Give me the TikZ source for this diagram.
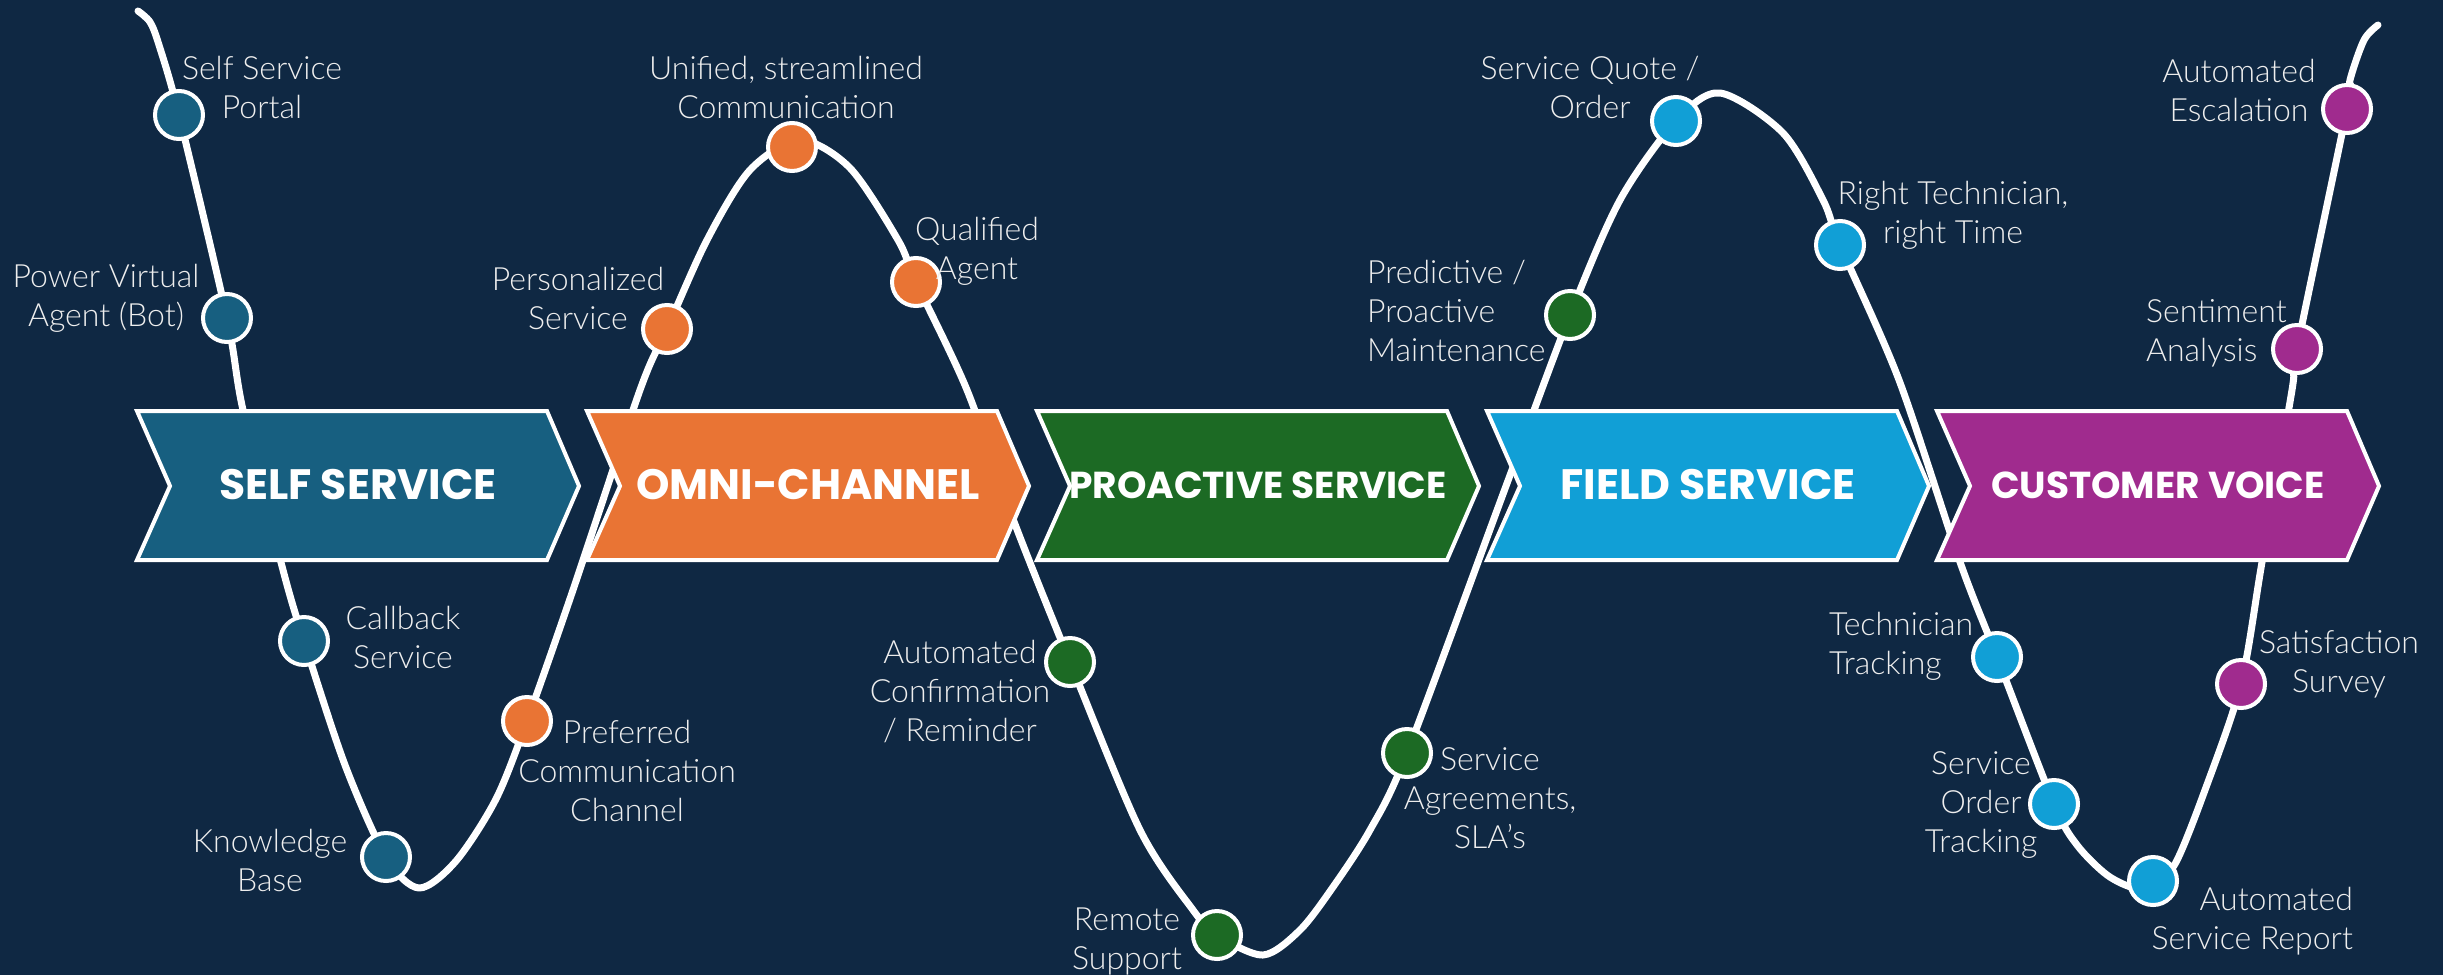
\documentclass[tikz,border=0pt]{standalone}
\usepackage{fontspec}
\IfFontExistsTF{Lato Light}{\setmainfont{Lato Light}}{\setmainfont{Lato}}
\newfontfamily\popfont{Poppins}
\definecolor{bgnavy}{HTML}{0F2843}
\definecolor{cself}{HTML}{175F80}
\definecolor{comni}{HTML}{E97434}
\definecolor{cpro}{HTML}{1C6A24}
\definecolor{cfield}{HTML}{119FD6}
\definecolor{ccust}{HTML}{A02B8E}
\definecolor{lblcol}{HTML}{EEEEEE}
\begin{document}
\begin{tikzpicture}[x=1pt,y=-1pt,
  lbl/.style={text=lblcol,align=center,inner sep=0pt,font={\fontsize{32}{39}\selectfont}},
  lblL/.style={lbl,align=left},
  lblR/.style={lbl,align=right},
  dot/.style={circle,draw=white,line width=4pt,minimum size=48pt,inner sep=0pt},
  chevbox/.style={draw=white,line width=4pt,line join=miter},
  chevtext/.style={text=white,inner sep=0pt,font={\popfont\bfseries\fontsize{42.5}{42.5}\selectfont}},
  chevtextS/.style={chevtext,font={\popfont\bfseries\fontsize{37.5}{37.5}\selectfont}},
  wave/.style={draw=white,line width=7pt,line cap=round,line join=round}]
\fill[bgnavy] (0,0) rectangle (2443,975);
\useasboundingbox (0,0) rectangle (2443,975);
% dot positions
\coordinate (p1) at (179,115);
\coordinate (p2) at (227,318);
\coordinate (p3) at (304,641);
\coordinate (p4) at (386,857);
\coordinate (p5) at (527,721);
\coordinate (p6) at (667,329);
\coordinate (p7) at (792,147);
\coordinate (p8) at (916,282);
\coordinate (p9) at (1070,662);
\coordinate (p10) at (1217,935);
\coordinate (p11) at (1407,753);
\coordinate (p12) at (1570,315);
\coordinate (p13) at (1676,121);
\coordinate (p14) at (1840,245);
\coordinate (p15) at (1997,657);
\coordinate (p16) at (2054,804);
\coordinate (p17) at (2153,881);
\coordinate (p18) at (2241,684);
\coordinate (p19) at (2297,349);
\coordinate (p20) at (2347,109);
\coordinate (wstart) at (138,11);
\coordinate (wend) at (2378,25);
% wave
\draw[wave] plot[smooth,tension=0.5] coordinates {
 (wstart) (150,22) (159,45) (p1) (p2) (243,410) (283,570) (p3) (345,765) (p4) (419,888) (456,861) (496,799) (p5) (573,590) (640,390) (p6) (707,240) (750,170) (800,140) (850,168) (898,240) (p8) (967,390) (1013,519) (p9) (1140,830) (1193,910) (p10) (1263,955) (1300,930) (1333,887) (1370,830) (p11) (1506,486) (p12) (1620,200) (p13) (1720,93) (1783,133) (1823,200) (p14) (1899,380) (1960,562) (p15) (p16) (2077,845) (2107,875) (2135,888) (p17) (2175,864) (2205,790) (p18) (2262,562) (2292,390) (p19) (p20) (2350,80) (2364,40) (wend)};
% chevrons
\foreach \x/\c/\t/\n/\s in {137/cself/SELF SERVICE/cs/chevtext,587/comni/OMNI-CHANNEL/co/chevtext,1037/cpro/PROACTIVE SERVICE/cp/chevtextS,1487/cfield/FIELD SERVICE/cf/chevtext,1937/ccust/CUSTOMER VOICE/cc/chevtextS}{
  \filldraw[chevbox,fill=\c] (\x,411) -- ++(410,0) -- ++(32,75) -- ++(-32,74) -- ++(-410,0) -- ++(33,-74) -- cycle;
  \node[\s] (\n) at (\x+221,485) {\t};
}
% dots
\node[dot,fill=cself] (d1) at (p1) {};
\node[dot,fill=cself] (d2) at (p2) {};
\node[dot,fill=cself] (d3) at (p3) {};
\node[dot,fill=cself] (d4) at (p4) {};
\node[dot,fill=comni] (d5) at (p5) {};
\node[dot,fill=comni] (d6) at (p6) {};
\node[dot,fill=comni] (d7) at (p7) {};
\node[dot,fill=comni] (d8) at (p8) {};
\node[dot,fill=cpro] (d9) at (p9) {};
\node[dot,fill=cpro] (d10) at (p10) {};
\node[dot,fill=cpro] (d11) at (p11) {};
\node[dot,fill=cpro] (d12) at (p12) {};
\node[dot,fill=cfield] (d13) at (p13) {};
\node[dot,fill=cfield] (d14) at (p14) {};
\node[dot,fill=cfield] (d15) at (p15) {};
\node[dot,fill=cfield] (d16) at (p16) {};
\node[dot,fill=cfield] (d17) at (p17) {};
\node[dot,fill=ccust] (d18) at (p18) {};
\node[dot,fill=ccust] (d19) at (p19) {};
\node[dot,fill=ccust] (d20) at (p20) {};
% labels
\node[lbl] (l1) at (262,87) {Self Service\\Portal};
\node[lbl] (l2) at (106,298) {Power Virtual\\Agent (Bot)};
\node[lbl] (l3) at (403,637) {Callback\\Service};
\node[lbl] (l4) at (270,860) {Knowledge\\Base};
\node[lbl] (l5) at (627,771) {Preferred\\Communication\\Channel};
\node[lbl] (l6) at (578,298) {Personalized\\Service};
\node[lbl] (l7) at (786,87) {Unified, streamlined\\Communication};
\node[lbl] (l8) at (977,251) {Qualified\\Agent};
\node[lbl] (l9) at (960,692) {Automated\\Confirmation\\/ Reminder};
\node[lbl] (l10) at (1127,941) {Remote\\Support};
\node[lbl] (l11) at (1490,798) {Service\\Agreements,\\SLA’s};
\node[lblL,anchor=west] (l12) at (1367,311) {Predictive /\\Proactive\\Maintenance};
\node[lbl] (l13) at (1590,87) {Service Quote /\\Order};
\node[lbl] (l14) at (1953,215) {Right Technician,\\right Time};
\node[lblL,anchor=west] (l15) at (1829,646) {Technician\\Tracking};
\node[lbl] (l16) at (1981,805) {Service\\Order\\Tracking};
\node[lblR,anchor=east] (l17) at (2353,921) {Automated\\Service Report};
\node[lbl] (l18) at (2339,664) {Satisfaction\\Survey};
\node[lblL,anchor=west] (l19) at (2146,333) {Sentiment\\Analysis};
\node[lbl] (l20) at (2239,90) {Automated\\Escalation};
\end{tikzpicture}
\end{document}
